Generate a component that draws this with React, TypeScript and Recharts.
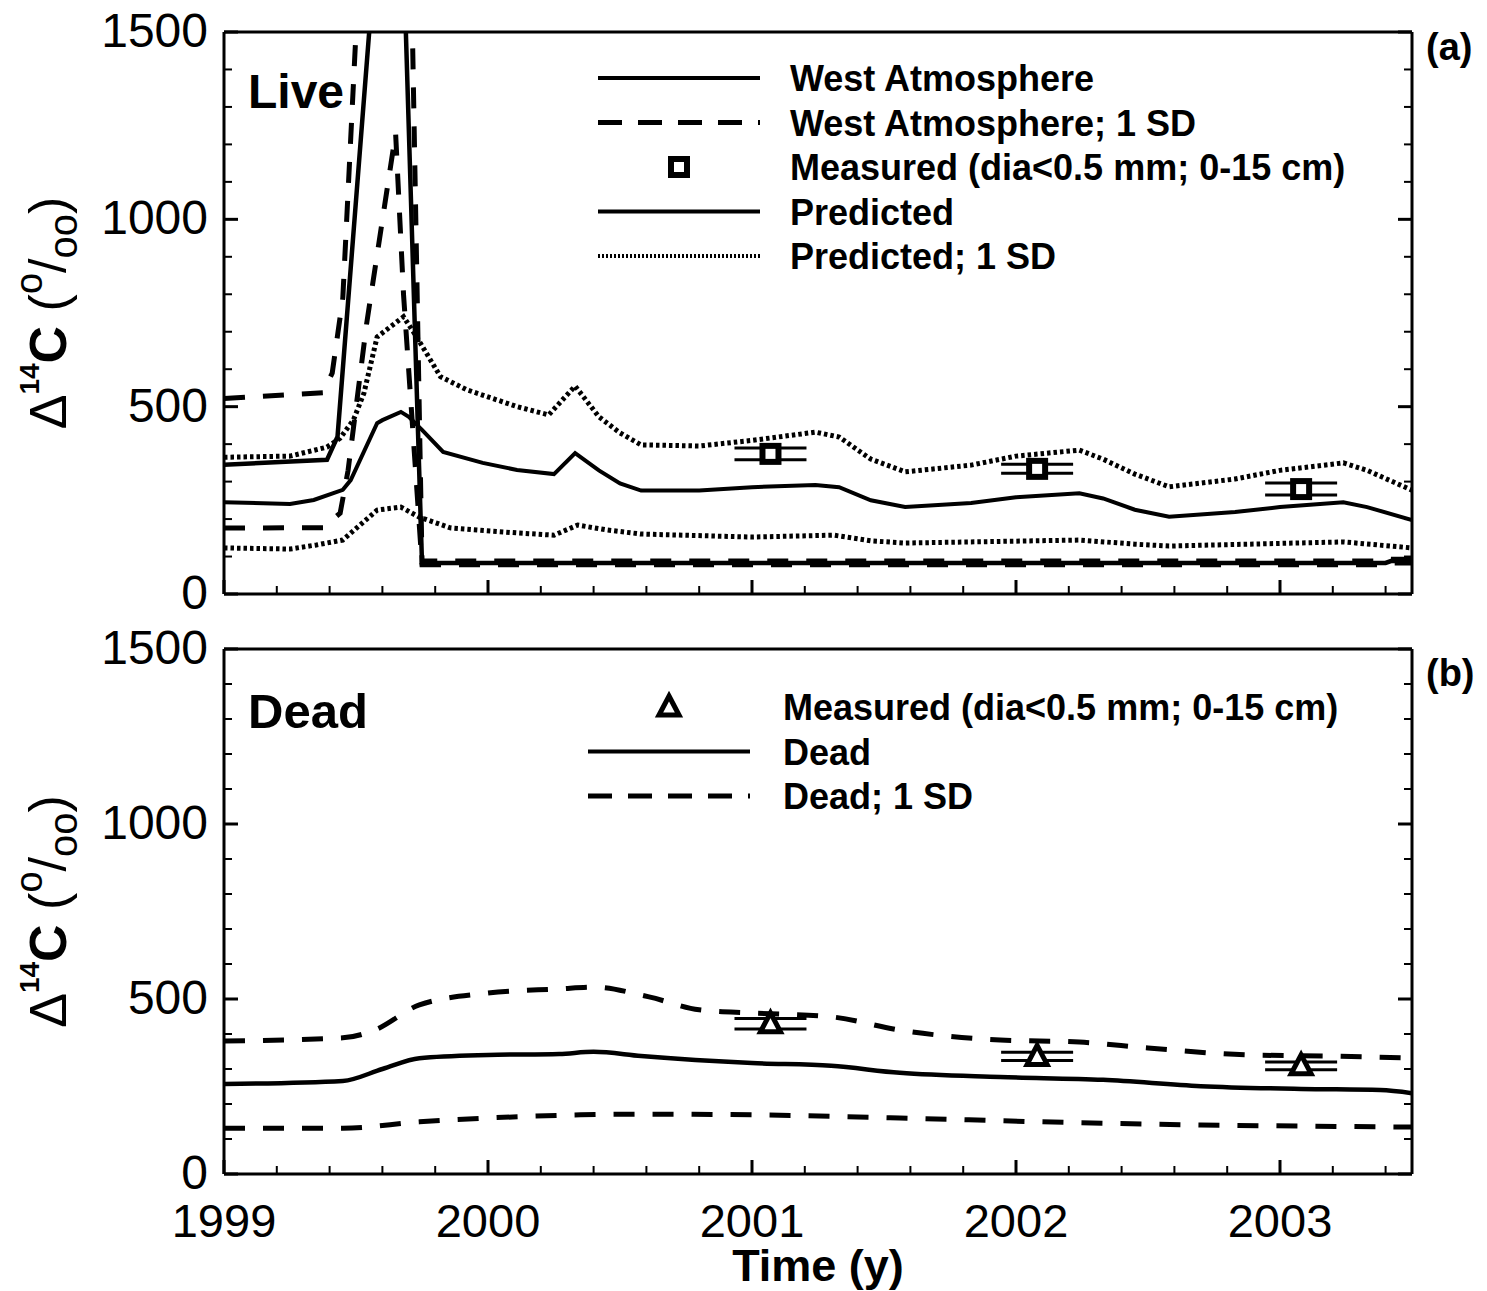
import React from 'react'
import { ComposedChart, Line, Scatter, ErrorBar, XAxis, YAxis, Legend } from 'recharts'

const FONT = '"Liberation Sans", Arial, Helvetica, sans-serif'
const W = 1487

// axis ticks
const yearTicks = [1999, 2000, 2001, 2002, 2003]
const timeTicks = [
  1999, 1999.2, 1999.4, 1999.6, 1999.8, 2000, 2000.2, 2000.4, 2000.6, 2000.8, 2001, 2001.2,
  2001.4, 2001.6, 2001.8, 2002, 2002.2, 2002.4, 2002.6, 2002.8, 2003, 2003.2, 2003.4,
]
const valueTicks = [0, 100, 200, 300, 400, 500, 600, 700, 800, 900, 1000, 1100, 1200, 1300, 1400, 1500]
const valueLabels = [0, 500, 1000, 1500]

// (a) live roots
const westAtmosphere = [
  { t: 1999.0, v: 345 }, { t: 1999.39, v: 358 }, { t: 1999.43, v: 420 }, { t: 1999.65, v: 2400 },
  { t: 1999.75, v: 83 }, { t: 2000.5, v: 83 }, { t: 2001.5, v: 83 }, { t: 2002.5, v: 83 },
  { t: 2003.4, v: 83 }, { t: 2003.42, v: 88 }, { t: 2003.5, v: 88 },
]
const westAtmosphereUpper = [
  { t: 1999.0, v: 522 }, { t: 1999.375, v: 537 }, { t: 1999.41, v: 590 }, { t: 1999.45, v: 790 },
  { t: 1999.5, v: 1500 }, { t: 1999.67, v: 3200 }, { t: 1999.75, v: 88 }, { t: 2001.0, v: 88 },
  { t: 2002.5, v: 88 }, { t: 2003.4, v: 88 }, { t: 2003.42, v: 93 }, { t: 2003.5, v: 93 },
]
const westAtmosphereLower = [
  { t: 1999.0, v: 176 }, { t: 1999.375, v: 177 }, { t: 1999.44, v: 216 }, { t: 1999.47, v: 330 },
  { t: 1999.54, v: 720 }, { t: 1999.65, v: 1230 }, { t: 1999.68, v: 800 }, { t: 1999.75, v: 78 },
  { t: 2001.0, v: 78 }, { t: 2002.5, v: 78 }, { t: 2003.4, v: 78 }, { t: 2003.42, v: 83 },
  { t: 2003.5, v: 83 },
]
const predicted = [
  { t: 1999.0, v: 245 }, { t: 1999.25, v: 240 }, { t: 1999.34, v: 251 }, { t: 1999.45, v: 278 },
  { t: 1999.48, v: 304 }, { t: 1999.58, v: 456 }, { t: 1999.6, v: 464 }, { t: 1999.67, v: 486 },
  { t: 1999.7, v: 473 }, { t: 1999.75, v: 438 }, { t: 1999.83, v: 379 }, { t: 1999.98, v: 350 },
  { t: 2000.11, v: 331 }, { t: 2000.25, v: 320 }, { t: 2000.33, v: 376 }, { t: 2000.42, v: 330 },
  { t: 2000.5, v: 295 }, { t: 2000.58, v: 276 }, { t: 2000.8, v: 276 }, { t: 2001.0, v: 285 },
  { t: 2001.24, v: 291 }, { t: 2001.33, v: 285 }, { t: 2001.45, v: 250 }, { t: 2001.58, v: 232 },
  { t: 2001.83, v: 243 }, { t: 2002.0, v: 258 }, { t: 2002.24, v: 269 }, { t: 2002.33, v: 255 },
  { t: 2002.45, v: 225 }, { t: 2002.58, v: 206 }, { t: 2002.83, v: 219 }, { t: 2003.0, v: 232 },
  { t: 2003.24, v: 245 }, { t: 2003.33, v: 232 }, { t: 2003.5, v: 197 },
]
const predictedUpper = [
  { t: 1999.0, v: 365 }, { t: 1999.25, v: 368 }, { t: 1999.39, v: 392 }, { t: 1999.44, v: 416 },
  { t: 1999.49, v: 464 }, { t: 1999.53, v: 536 }, { t: 1999.58, v: 686 }, { t: 1999.63, v: 713 },
  { t: 1999.68, v: 740 }, { t: 1999.73, v: 686 }, { t: 1999.82, v: 580 }, { t: 1999.92, v: 545 },
  { t: 2000.11, v: 500 }, { t: 2000.23, v: 478 }, { t: 2000.33, v: 555 }, { t: 2000.42, v: 473 },
  { t: 2000.5, v: 430 }, { t: 2000.58, v: 398 }, { t: 2000.8, v: 395 }, { t: 2001.0, v: 410 },
  { t: 2001.24, v: 432 }, { t: 2001.33, v: 419 }, { t: 2001.45, v: 360 }, { t: 2001.58, v: 326 },
  { t: 2001.83, v: 344 }, { t: 2002.0, v: 368 }, { t: 2002.24, v: 384 }, { t: 2002.33, v: 360 },
  { t: 2002.45, v: 320 }, { t: 2002.58, v: 286 }, { t: 2002.83, v: 307 }, { t: 2003.0, v: 330 },
  { t: 2003.24, v: 350 }, { t: 2003.33, v: 330 }, { t: 2003.5, v: 277 },
]
const predictedLower = [
  { t: 1999.0, v: 123 }, { t: 1999.25, v: 120 }, { t: 1999.35, v: 131 }, { t: 1999.45, v: 144 },
  { t: 1999.58, v: 224 }, { t: 1999.67, v: 232 }, { t: 1999.74, v: 205 }, { t: 1999.86, v: 176 },
  { t: 2000.11, v: 163 }, { t: 2000.25, v: 157 }, { t: 2000.34, v: 184 }, { t: 2000.45, v: 171 },
  { t: 2000.58, v: 160 }, { t: 2001.0, v: 152 }, { t: 2001.31, v: 157 }, { t: 2001.45, v: 142 },
  { t: 2001.58, v: 136 }, { t: 2002.24, v: 144 }, { t: 2002.45, v: 133 }, { t: 2002.58, v: 128 },
  { t: 2003.24, v: 139 }, { t: 2003.5, v: 123 },
]
const measuredLive = [
  { t: 2001.07, v: 374, err: 16 },
  { t: 2002.08, v: 334, err: 12 },
  { t: 2003.08, v: 280, err: 16 },
]

// (b) dead roots
const dead = [
  { t: 1999.0, v: 257 }, { t: 1999.45, v: 266 }, { t: 1999.6, v: 300 }, { t: 1999.74, v: 331 },
  { t: 2000.0, v: 340 }, { t: 2000.27, v: 343 }, { t: 2000.4, v: 349 }, { t: 2000.58, v: 337 },
  { t: 2001.0, v: 317 }, { t: 2001.3, v: 309 }, { t: 2001.56, v: 289 }, { t: 2001.94, v: 277 },
  { t: 2002.33, v: 269 }, { t: 2002.7, v: 251 }, { t: 2003.08, v: 243 }, { t: 2003.38, v: 240 },
  { t: 2003.5, v: 231 },
]
const deadUpper = [
  { t: 1999.0, v: 380 }, { t: 1999.45, v: 389 }, { t: 1999.57, v: 411 }, { t: 1999.74, v: 483 },
  { t: 2000.0, v: 517 }, { t: 2000.27, v: 529 }, { t: 2000.4, v: 534 }, { t: 2000.61, v: 506 },
  { t: 2000.8, v: 469 }, { t: 2001.0, v: 460 }, { t: 2001.3, v: 449 }, { t: 2001.56, v: 411 },
  { t: 2001.94, v: 383 }, { t: 2002.24, v: 377 }, { t: 2002.5, v: 360 }, { t: 2002.89, v: 340 },
  { t: 2003.19, v: 337 }, { t: 2003.5, v: 331 },
]
const deadLower = [
  { t: 1999.0, v: 131 }, { t: 1999.45, v: 131 }, { t: 1999.74, v: 149 }, { t: 2000.0, v: 160 },
  { t: 2000.35, v: 169 }, { t: 2000.61, v: 171 }, { t: 2001.0, v: 169 }, { t: 2001.56, v: 160 },
  { t: 2002.1, v: 149 }, { t: 2002.7, v: 140 }, { t: 2003.08, v: 137 }, { t: 2003.5, v: 134 },
]
const measuredDead = [
  { t: 2001.07, v: 429, err: 15 },
  { t: 2002.08, v: 336, err: 12 },
  { t: 2003.08, v: 309, err: 11 },
]

const liveLegendLabels = [
  'West Atmosphere',
  'West Atmosphere; 1 SD',
  'Measured (dia<0.5 mm; 0-15 cm)',
  'Predicted',
  'Predicted; 1 SD',
]
const deadLegendLabels = ['Measured (dia<0.5 mm; 0-15 cm)', 'Dead', 'Dead; 1 SD']

const DASH = '21 18'
const DOT = '3.5 3'

function XTick(props: any) {
  const { x, y, payload, dir, showLabel } = props
  const v = payload.value
  const major = yearTicks.some((t) => Math.abs(t - v) < 1e-6)
  const len = major ? 14 : 8
  return (
    <g>
      <line x1={x} x2={x} y1={y} y2={y + dir * len} stroke="#000" strokeWidth={major ? 3 : 2} />
      {showLabel && major ? (
        <text x={x} y={y + 63} textAnchor="middle" fontFamily={FONT} fontSize={47} fill="#000">
          {Math.round(v)}
        </text>
      ) : null}
    </g>
  )
}

function YTick(props: any) {
  const { x, y, payload, dir, showLabel } = props
  const v = payload.value
  const major = valueLabels.includes(v)
  const len = major ? 14 : 8
  return (
    <g>
      <line x1={x} x2={x + dir * len} y1={y} y2={y} stroke="#000" strokeWidth={major ? 3 : 2} />
      {showLabel && major ? (
        <text x={x - 16} y={y + 15} textAnchor="end" fontFamily={FONT} fontSize={48} fill="#000">
          {v}
        </text>
      ) : null}
    </g>
  )
}

function YTitle(props: any) {
  const vb = props.viewBox || {}
  const cy = vb.y + vb.height / 2
  const x = 66
  return (
    <text
      transform={`rotate(-90 ${x} ${cy})`}
      x={x}
      y={cy}
      textAnchor="middle"
      fontFamily={FONT}
      fontSize={52}
      fill="#000"
    >
      <tspan>Δ</tspan>
      <tspan fontSize={28} fontWeight="bold" dy={-27}>14</tspan>
      <tspan fontWeight="bold" dy={27}>C</tspan>
      <tspan> (</tspan>
      <tspan fontSize={38} dy={-24}>o</tspan>
      <tspan dy={24}>/</tspan>
      <tspan fontSize={40} dy={11}>oo</tspan>
      <tspan dy={-11}>)</tspan>
    </text>
  )
}

function TimeTitle(props: any) {
  const vb = props.viewBox || {}
  return (
    <text
      x={vb.x + vb.width / 2}
      y={vb.y + 107}
      textAnchor="middle"
      fontFamily={FONT}
      fontSize={45}
      fontWeight="bold"
      fill="#000"
    >
      Time (y)
    </text>
  )
}

function SquareMark(props: any) {
  const { cx, cy } = props
  return <rect x={cx - 8} y={cy - 8} width={16} height={16} fill="#fff" stroke="#000" strokeWidth={6} />
}

function TriangleMark(props: any) {
  const { cx, cy } = props
  return (
    <path
      d={`M${cx},${cy - 11} L${cx + 10},${cy + 8} L${cx - 10},${cy + 8} Z`}
      fill="#fff"
      stroke="#000"
      strokeWidth={5}
      strokeLinejoin="miter"
    />
  )
}

function legendSample(kind: string, x0: number, x1: number, y: number) {
  if (kind === 'solid') return <line x1={x0} x2={x1} y1={y} y2={y} stroke="#000" strokeWidth={4} />
  if (kind === 'dashed')
    return <line x1={x0} x2={x1} y1={y} y2={y} stroke="#000" strokeWidth={5} strokeDasharray="24 16" />
  if (kind === 'dotted')
    return <line x1={x0} x2={x1} y1={y} y2={y} stroke="#000" strokeWidth={4} strokeDasharray="2 2" />
  const cx = (x0 + x1) / 2
  if (kind === 'square') return <SquareMark cx={cx} cy={y} />
  return <TriangleMark cx={cx} cy={y} />
}

function LegendBox({ labels, kinds, textX }: { labels: string[]; kinds: string[]; textX: number }) {
  return (
    <svg width={820} height={240} style={{ overflow: 'visible' }}>
      {labels.map((label, i) => {
        const y = 23 + i * 44.5
        return (
          <g key={label + i}>
            {legendSample(kinds[i], 8, 170, y)}
            <text x={textX} y={y + 13} fontFamily={FONT} fontSize={36} fontWeight="bold" fill="#000">
              {label}
            </text>
          </g>
        )
      })}
    </svg>
  )
}

const frameLine = { stroke: '#000', strokeWidth: 3 }

// axes are 1px thick so they render; the margins below absorb that 1px
function axes(showXLabels: boolean, withTitle: boolean) {
  return [
    <XAxis
      key="xb"
      xAxisId="b"
      dataKey="t"
      type="number"
      domain={[1999, 2003.5]}
      allowDataOverflow
      ticks={timeTicks}
      interval={0}
      height={1}
      tickSize={0}
      tickMargin={0}
      tickLine={false}
      axisLine={frameLine}
      tick={(p: any) => <XTick {...p} dir={-1} showLabel={showXLabels} />}
      label={withTitle ? { content: TimeTitle } : undefined}
    />,
    <XAxis
      key="xt"
      xAxisId="t"
      orientation="top"
      type="number"
      domain={[1999, 2003.5]}
      allowDataOverflow
      ticks={timeTicks}
      interval={0}
      height={1}
      tickSize={0}
      tickMargin={0}
      tickLine={false}
      axisLine={frameLine}
      tick={(p: any) => <XTick {...p} dir={1} showLabel={false} />}
    />,
    <YAxis
      key="yl"
      yAxisId="l"
      dataKey="v"
      type="number"
      domain={[0, 1500]}
      allowDataOverflow
      ticks={valueTicks}
      interval={0}
      width={1}
      tickSize={0}
      tickMargin={0}
      tickLine={false}
      axisLine={frameLine}
      tick={(p: any) => <YTick {...p} dir={1} showLabel={true} />}
      label={{ content: YTitle }}
    />,
    <YAxis
      key="yr"
      yAxisId="r"
      orientation="right"
      type="number"
      domain={[0, 1500]}
      allowDataOverflow
      ticks={valueTicks}
      interval={0}
      width={1}
      tickSize={0}
      tickMargin={0}
      tickLine={false}
      axisLine={frameLine}
      tick={(p: any) => <YTick {...p} dir={-1} showLabel={false} />}
    />,
  ]
}

function LivePanel() {
  return (
    <ComposedChart width={W} height={620} margin={{ top: 31, right: 74, bottom: 25, left: 223 }}>
      {axes(false, false)}
      <Line xAxisId="b" yAxisId="l" data={predictedUpper} dataKey="v" stroke="#000" strokeWidth={5}
        strokeDasharray={DOT} dot={false} activeDot={false} isAnimationActive={false} />
      <Line xAxisId="b" yAxisId="l" data={predictedLower} dataKey="v" stroke="#000" strokeWidth={5}
        strokeDasharray={DOT} dot={false} activeDot={false} isAnimationActive={false} />
      <Line xAxisId="b" yAxisId="l" data={predicted} dataKey="v" stroke="#000" strokeWidth={4}
        dot={false} activeDot={false} isAnimationActive={false} />
      <Line xAxisId="b" yAxisId="l" data={westAtmosphereUpper} dataKey="v" stroke="#000" strokeWidth={5}
        strokeDasharray={DASH} dot={false} activeDot={false} isAnimationActive={false} />
      <Line xAxisId="b" yAxisId="l" data={westAtmosphereLower} dataKey="v" stroke="#000" strokeWidth={5}
        strokeDasharray={DASH} dot={false} activeDot={false} isAnimationActive={false} />
      <Line xAxisId="b" yAxisId="l" data={westAtmosphere} dataKey="v" stroke="#000" strokeWidth={4.5}
        dot={false} activeDot={false} isAnimationActive={false} />
      <Scatter xAxisId="b" yAxisId="l" data={measuredLive} dataKey="v" shape={SquareMark} isAnimationActive={false}>
        <ErrorBar dataKey="err" direction="y" width={36} stroke="#000" strokeWidth={3} />
      </Scatter>
      <Legend
        layout="vertical"
        align="center"
        verticalAlign="middle"
        wrapperStyle={{ left: 590, top: 55, width: 820, height: 240 }}
        content={() => (
          <LegendBox
            labels={liveLegendLabels}
            kinds={['solid', 'dashed', 'square', 'solid', 'dotted']}
            textX={200}
          />
        )}
      />
    </ComposedChart>
  )
}

function DeadPanel() {
  return (
    <ComposedChart width={W} height={671} margin={{ top: 28, right: 74, bottom: 116, left: 223 }}>
      {axes(true, true)}
      <Line xAxisId="b" yAxisId="l" data={deadUpper} dataKey="v" type="monotone" stroke="#000" strokeWidth={5}
        strokeDasharray={DASH} dot={false} activeDot={false} isAnimationActive={false} />
      <Line xAxisId="b" yAxisId="l" data={deadLower} dataKey="v" type="monotone" stroke="#000" strokeWidth={5}
        strokeDasharray={DASH} dot={false} activeDot={false} isAnimationActive={false} />
      <Line xAxisId="b" yAxisId="l" data={dead} dataKey="v" type="monotone" stroke="#000" strokeWidth={4.5}
        dot={false} activeDot={false} isAnimationActive={false} />
      <Scatter xAxisId="b" yAxisId="l" data={measuredDead} dataKey="v" shape={TriangleMark} isAnimationActive={false}>
        <ErrorBar dataKey="err" direction="y" width={36} stroke="#000" strokeWidth={3} />
      </Scatter>
      <Legend
        layout="vertical"
        align="center"
        verticalAlign="middle"
        wrapperStyle={{ left: 580, top: 64, width: 820, height: 240 }}
        content={() => (
          <LegendBox labels={deadLegendLabels} kinds={['triangle', 'solid', 'dashed']} textX={203} />
        )}
      />
    </ComposedChart>
  )
}

export default function App() {
  return (
    <div style={{ position: 'absolute', left: 0, top: 0, width: W, height: 1291, background: '#fff' }}>
      <div style={{ position: 'absolute', left: 0, top: 0 }}>
        <LivePanel />
      </div>
      <div style={{ position: 'absolute', left: 0, top: 620 }}>
        <DeadPanel />
      </div>
      <svg
        width={W}
        height={1291}
        style={{ position: 'absolute', left: 0, top: 0, pointerEvents: 'none' }}
      >
        <text x={248} y={108} fontFamily={FONT} fontSize={48} fontWeight="bold">Live</text>
        <text x={248} y={728} fontFamily={FONT} fontSize={49} fontWeight="bold">Dead</text>
        <text x={1426} y={60} fontFamily={FONT} fontSize={38} fontWeight="bold">(a)</text>
        <text x={1426} y={686} fontFamily={FONT} fontSize={38} fontWeight="bold">(b)</text>
      </svg>
    </div>
  )
}
